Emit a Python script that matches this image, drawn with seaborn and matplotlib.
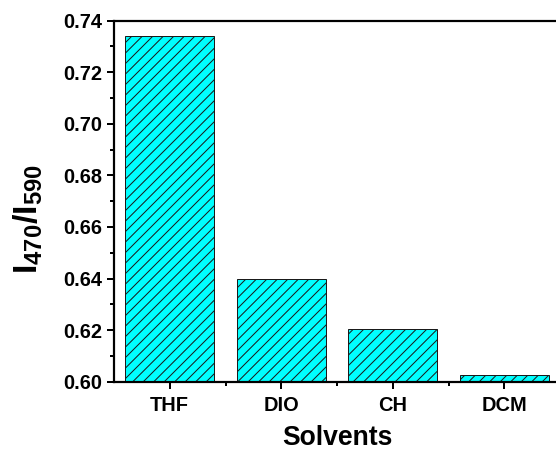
import matplotlib
matplotlib.use("Agg")
import matplotlib.pyplot as plt
import seaborn as sns
import pandas as pd

solvents = ["THF", "DIO", "CH", "DCM"]
ratio = [0.7342, 0.6397, 0.6206, 0.6027]
y_ticks = [0.60, 0.62, 0.64, 0.66, 0.68, 0.70, 0.72, 0.74]

DPI = 126
W, H = 556, 453

def pt(px):
    return px * 72.0 / DPI

sns.set_theme(style="ticks")
plt.rcParams["font.family"] = ["Liberation Sans", "DejaVu Sans"]
plt.rcParams["font.weight"] = "bold"
plt.rcParams["text.color"] = "black"
plt.rcParams["axes.labelcolor"] = "black"
plt.rcParams["xtick.color"] = "black"
plt.rcParams["ytick.color"] = "black"
plt.rcParams["mathtext.fontset"] = "custom"
plt.rcParams["mathtext.bf"] = "Liberation Sans:bold"
plt.rcParams["mathtext.rm"] = "Liberation Sans:bold"
plt.rcParams["hatch.linewidth"] = pt(1.0)
plt.rcParams["hatch.color"] = "black"

df = pd.DataFrame({"Solvent": solvents, "Ratio": ratio})

fig = plt.figure(figsize=(W / DPI, H / DPI), dpi=DPI)
ax = fig.add_axes([114 / W, 1 - 381.7 / H, (560 - 114) / W, (381.7 - 20.7) / H])

sns.barplot(data=df, x="Solvent", y="Ratio", color="#00FFFF", saturation=1,
            width=0.8, edgecolor="#1a1a1a", linewidth=pt(1.0), ax=ax)
for p in ax.patches:
    p.set_hatch("////")

ax.set_ylim(0.60, 0.74)
ax.set_xlim(-0.5, 3.5)
ax.set_yticks(y_ticks)
ax.set_yticklabels([f"{v:.2f}" for v in y_ticks])
ax.set_yticks([0.61, 0.63, 0.65, 0.67, 0.69, 0.71, 0.73], minor=True)
ax.set_xticks([0.5, 1.5, 2.5], minor=True)

for s in ["left", "bottom", "top"]:
    ax.spines[s].set_linewidth(pt(2.2))
    ax.spines[s].set_color("black")
ax.spines["right"].set_visible(False)

ax.tick_params(axis="both", which="major", direction="out", length=pt(7), width=pt(2),
               labelsize=pt(20), pad=pt(5), color="black", labelcolor="black")
ax.tick_params(axis="both", which="minor", direction="out", length=pt(4), width=pt(2),
               color="black")
ax.tick_params(axis="x", which="major", pad=pt(7))
for lab in ax.get_xticklabels() + ax.get_yticklabels():
    lab.set_fontweight("bold")

ax.set_xlabel("Solvents", fontsize=pt(26.5), fontweight="bold", labelpad=pt(10), color="black")
ax.set_ylabel(r"$\mathbf{I_{470}/I_{590}}$", fontsize=pt(34), color="black")
ax.yaxis.set_label_coords(-0.155, 0.45)

fig.savefig("out.png", dpi=DPI)
